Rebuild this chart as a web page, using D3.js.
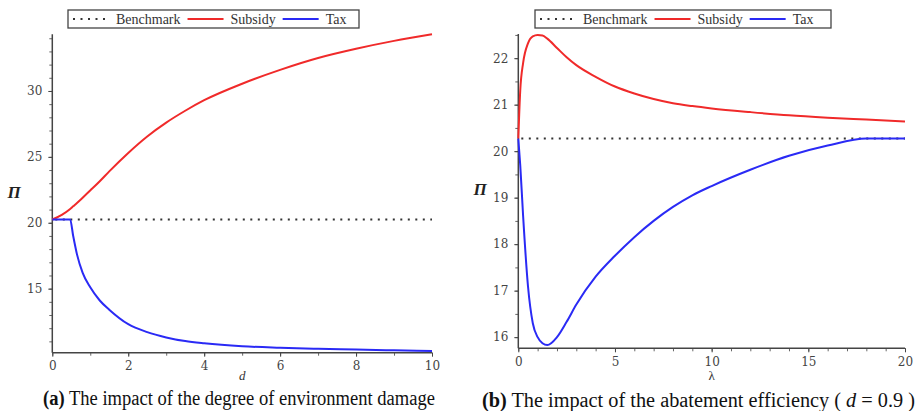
<!DOCTYPE html>
<html>
<head>
<meta charset="utf-8">
<script src="https://cdn.jsdelivr.net/npm/d3@7"></script>
<style>
  body { margin: 0; background: #fff; }
  .tick text { font-family: "DejaVu Serif", serif; font-size: 12px; fill: #444; }
  .legend text { font-family: "Liberation Serif", serif; font-size: 14px; fill: #333; }
</style>
</head>
<body>
<svg id="chart" width="916" height="411"></svg>
<script>
'use strict';

// legend
var seriesNames = ["Benchmark", "Subsidy", "Tax"];

// panel (a): degree of environment damage d
var dValues = [0, 0.25, 0.47, 0.55, 0.65, 0.8, 1, 1.25, 1.5, 2, 2.5, 3, 3.5, 4, 5, 6, 7, 8, 9, 10];
var subsidyA = [20.25, 20.6, 21.05, 21.25, 21.5, 21.9, 22.45, 23.15, 23.9, 25.3, 26.55, 27.6, 28.5, 29.3, 30.55, 31.6, 32.5, 33.2, 33.8, 34.3];
var taxA = [20.25, 20.25, 20.25, 19.0, 17.6, 16.2, 15.1, 14.1, 13.4, 12.3, 11.7, 11.3, 11.02, 10.85, 10.63, 10.52, 10.44, 10.38, 10.32, 10.27];
var benchmarkA = 20.25;
var xTicksA = [0, 2, 4, 6, 8, 10];
var yTicksA = [15, 20, 25, 30];

// panel (b): abatement efficiency lambda
var lambdaValues = [0, 0.1, 0.25, 0.5, 0.75, 1, 1.25, 1.5, 2, 2.5, 3, 4, 5, 6, 7, 8, 9, 10, 12, 14, 16, 18, 20];
var subsidyB = [20.27, 21.3, 21.9, 22.32, 22.47, 22.5, 22.49, 22.42, 22.22, 22.02, 21.85, 21.6, 21.39, 21.24, 21.12, 21.03, 20.97, 20.92, 20.84, 20.77, 20.72, 20.68, 20.64];
var taxB = [20.27, 19.7, 18.6, 17.1, 16.3, 16.0, 15.87, 15.83, 16.0, 16.33, 16.7, 17.3, 17.75, 18.15, 18.5, 18.8, 19.05, 19.25, 19.6, 19.9, 20.12, 20.27, 20.27];
var benchmarkB = 20.27;
var xTicksB = [0, 5, 10, 15, 20];
var yTicksB = [16, 17, 18, 19, 20, 21, 22];

var svg = d3.select("#chart");

function drawPanel(p) {
  var x = d3.scaleLinear().domain(p.xDomain).range([p.left, p.right]);
  var y = d3.scaleLinear().domain(p.yDomain).range([p.bottom, p.top]);
  var g = svg.append("g");

  // minor ticks
  g.append("g")
    .attr("transform", "translate(0," + p.bottom + ")")
    .call(d3.axisBottom(x).tickValues(d3.range(p.xDomain[0], p.xDomain[1] + 0.001, p.xMinor)).tickSize(3).tickFormat(""))
    .call(function(a) { a.select(".domain").remove(); a.selectAll("line").attr("stroke", "#666"); });
  g.append("g")
    .attr("transform", "translate(" + p.left + ",0)")
    .call(d3.axisLeft(y).tickValues(d3.range(Math.ceil(p.yDomain[0] / p.yMinor) * p.yMinor, p.yDomain[1], p.yMinor)).tickSize(3).tickFormat(""))
    .call(function(a) { a.select(".domain").remove(); a.selectAll("line").attr("stroke", "#666"); });

  // major ticks + labels
  g.append("g")
    .attr("transform", "translate(0," + p.bottom + ")")
    .call(d3.axisBottom(x).tickValues(p.xTicks).tickSize(4).tickPadding(5).tickFormat(d3.format("d")))
    .call(function(a) { a.select(".domain").remove(); a.selectAll("line").attr("stroke", "#444"); });
  g.append("g")
    .attr("transform", "translate(" + p.left + ",0)")
    .call(d3.axisLeft(y).tickValues(p.yTicks).tickSize(4).tickPadding(6).tickFormat(d3.format("d")))
    .call(function(a) { a.select(".domain").remove(); a.selectAll("line").attr("stroke", "#444"); });

  // axis lines
  g.append("line")
    .attr("x1", p.left).attr("x2", p.right).attr("y1", p.bottom).attr("y2", p.bottom)
    .attr("stroke", "#444").attr("stroke-width", 1.5);
  g.append("line")
    .attr("x1", p.left).attr("x2", p.left).attr("y1", p.top).attr("y2", p.bottom)
    .attr("stroke", "#444").attr("stroke-width", 1.5);

  // benchmark
  g.append("line")
    .attr("x1", x(p.xDomain[0]) + 3).attr("x2", x(p.xDomain[1]))
    .attr("y1", y(p.benchmark)).attr("y2", y(p.benchmark))
    .attr("stroke", "#333").attr("stroke-width", 2)
    .attr("stroke-dasharray", "2,5.5");

  var line = d3.line()
    .x(function(d) { return x(d[0]); })
    .y(function(d) { return y(d[1]); })
    .curve(d3.curveMonotoneX);

  g.append("path")
    .datum(d3.zip(p.xs, p.subsidy))
    .attr("d", line).attr("fill", "none")
    .attr("stroke", "#f02a2a").attr("stroke-width", 2);
  g.append("path")
    .datum(d3.zip(p.xs, p.tax))
    .attr("d", line).attr("fill", "none")
    .attr("stroke", "#2a2af5").attr("stroke-width", 2);

  // axis titles
  g.append("text")
    .attr("x", p.piX).attr("y", p.piY)
    .attr("text-anchor", "middle")
    .style("font-family", "Liberation Serif, serif").style("font-size", "17px")
    .style("font-weight", "bold").style("font-style", "italic").attr("fill", "#222")
    .text("\u03A0");
  g.append("text")
    .attr("x", (p.left + p.right) / 2).attr("y", p.xLabelY)
    .attr("text-anchor", "middle")
    .style("font-family", "Liberation Serif, serif").style("font-size", "13px")
    .style("font-style", p.xLabelItalic ? "italic" : "normal").attr("fill", "#333")
    .text(p.xLabel);

  // legend
  var lg = svg.append("g").attr("class", "legend");
  lg.append("rect")
    .attr("x", p.legend.x).attr("y", 10)
    .attr("width", p.legend.w).attr("height", 18)
    .attr("fill", "#fff").attr("stroke", "#444").attr("stroke-width", 1.3);
  var cx = p.legend.x + 5;
  var styles = [
    { color: "#333", dash: "2,5.5", width: 2 },
    { color: "#f02a2a", dash: null, width: 2 },
    { color: "#2a2af5", dash: null, width: 2 }
  ];
  seriesNames.forEach(function(name, i) {
    lg.append("line")
      .attr("x1", cx).attr("x2", cx + 36).attr("y1", 19).attr("y2", 19)
      .attr("stroke", styles[i].color).attr("stroke-width", styles[i].width)
      .attr("stroke-dasharray", styles[i].dash);
    var t = lg.append("text").attr("x", cx + 43).attr("y", 23.5).text(name);
    cx += 43 + t.node().getComputedTextLength() + 7;
  });

  // caption
  var cap = svg.append("text")
    .attr("x", p.caption.x).attr("y", p.caption.y)
    .attr("textLength", p.caption.w).attr("lengthAdjust", "spacingAndGlyphs")
    .style("font-family", "Liberation Serif, serif").style("font-size", "20px").attr("fill", "#111");
  cap.append("tspan").style("font-weight", "bold").text(p.caption.tag);
  p.caption.parts.forEach(function(part) {
    cap.append("tspan").style("font-style", part[1] ? "italic" : "normal").text(part[0]);
  });
}

drawPanel({
  xs: dValues, subsidy: subsidyA, tax: taxA, benchmark: benchmarkA,
  xDomain: [0, 10], yDomain: [10.14, 34.3],
  left: 52.3, right: 432, top: 34.3, bottom: 352.7,
  xTicks: xTicksA, yTicks: yTicksA, xMinor: 1, yMinor: 1,
  piX: 14, piY: 198, xLabel: "d", xLabelItalic: true, xLabelY: 380,
  legend: { x: 68, w: 291 },
  caption: { x: 43, y: 405, w: 392, tag: "(a)", parts: [[" The impact of the degree of environment damage", false]] }
});

drawPanel({
  xs: lambdaValues, subsidy: subsidyB, tax: taxB, benchmark: benchmarkB,
  xDomain: [0, 20], yDomain: [15.76, 22.52],
  left: 518.3, right: 905, top: 34, bottom: 348.3,
  xTicks: xTicksB, yTicks: yTicksB, xMinor: 1, yMinor: 0.5,
  piX: 480, piY: 195, xLabel: "\u03BB", xLabelItalic: false, xLabelY: 380,
  legend: { x: 535, w: 296 },
  caption: { x: 482, y: 407, w: 433, tag: "(b)", parts: [[" The impact of the abatement efficiency ( ", false], ["d", true], [" = 0.9 )", false]] }
});
</script>
</body>
</html>
